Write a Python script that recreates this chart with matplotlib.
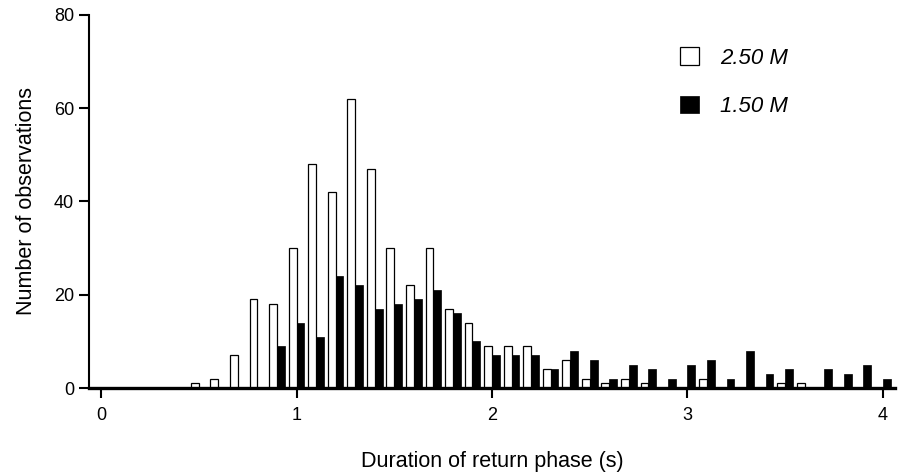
import numpy as np
import matplotlib
matplotlib.use('Agg')
import matplotlib.pyplot as plt

plt.rcParams['font.family'] = ['Liberation Sans', 'DejaVu Sans']

# bin centres of return phase duration (s)
durations = [round(0.1 * i, 1) for i in range(41)]

# 2.50 M (white bars)
obs_250 = [0, 0, 0, 0, 0, 1, 2, 7, 19, 18,
           30, 48, 42, 62, 47, 30, 22, 30, 17, 14,
           9, 9, 9, 4, 6, 2, 1, 2, 1, 0,
           0, 2, 0, 0, 0, 1, 1, 0, 0, 0,
           0]

# 1.50 M (black bars)
obs_150 = [0, 0, 0, 0, 0, 0, 0, 0, 0, 9,
           14, 11, 24, 22, 17, 18, 19, 21, 16, 10,
           7, 7, 7, 4, 8, 6, 2, 5, 4, 2,
           5, 6, 2, 8, 3, 4, 0, 4, 3, 5,
           2]

labels = ('2.50 M', '1.50 M')
x_ticks = [0, 1, 2, 3, 4]
y_ticks = [0, 20, 40, 60, 80]

if __name__ == '__main__':
    fig = plt.figure(figsize=(9.01, 4.73), dpi=100)
    ax = fig.add_axes([0.0991, 0.1797, 0.8939, 0.7886])

    x = np.array(durations)
    w = 0.04
    ax.bar(x - w / 2, obs_250, width=w, color='white', edgecolor='black',
           linewidth=0.9, label=labels[0], zorder=2)
    ax.bar(x + w / 2, obs_150, width=w, color='black', edgecolor='black',
           linewidth=0.5, label=labels[1], zorder=2)

    ax.set_xlim(-0.06, 4.06)
    ax.set_ylim(0, 80)
    ax.set_xticks(x_ticks)
    ax.set_yticks(y_ticks)

    for side in ('top', 'right'):
        ax.spines[side].set_visible(False)
    ax.spines['left'].set_linewidth(1.5)
    ax.spines['bottom'].set_linewidth(2.4)
    ax.spines['bottom'].set_zorder(3)

    ax.tick_params(axis='x', direction='out', length=7, width=1.5, pad=7,
                   labelsize=13)
    ax.tick_params(axis='y', direction='out', length=7, width=1.5, pad=4,
                   labelsize=13)

    ax.set_xlabel('Duration of return phase (s)', fontsize=15.5, labelpad=19)
    ax.set_ylabel('Number of observations', fontsize=15.5, labelpad=12)

    ax.legend(loc='upper left', bbox_to_anchor=(0.755, 0.900),
              bbox_transform=fig.transFigure, frameon=False,
              prop={'style': 'italic', 'size': 16},
              handlelength=0.86, handleheight=0.86, handletextpad=0.95,
              labelspacing=1.2, borderpad=0, borderaxespad=0)

    fig.savefig('out.png', dpi=100)
